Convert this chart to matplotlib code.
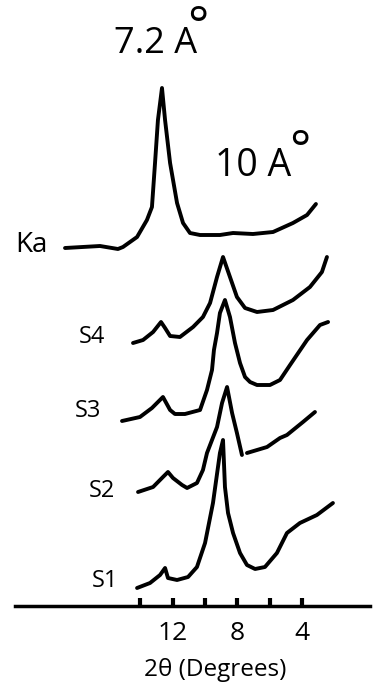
"""
XRD patterns of kaolinite (Ka) and samples S1-S4, stacked with offsets.
2-theta runs right-to-left as on the original strip-chart figure.
"""

import numpy as np
import matplotlib.pyplot as plt

plt.rcParams.update({
    "font.family": ["Open Sans", "DejaVu Sans"],
    "figure.facecolor": "white",
    "axes.facecolor": "white",
})

# ─── data (2-theta in degrees, intensity in arbitrary units above baseline) ───

KA_2THETA = [18.64, 16.48, 15.37, 15.06, 14.19, 13.58, 13.27, 13.08, 12.90, 12.65,
             12.46, 12.15, 11.72, 11.35, 10.92, 10.30, 9.07, 8.26, 7.03, 5.79,
             4.56, 3.69, 3.14]
KA_INT = [0, 2, -1, 1, 11, 28, 41, 85, 128, 160,
          128, 85, 45, 25, 15, 13, 13, 15, 14, 16,
          25, 33, 44]

S4_2THETA = [14.44, 13.82, 13.20, 12.71, 12.46, 12.15, 11.54, 10.73, 10.12, 9.68,
             9.25, 8.88, 8.45, 8.02, 7.52, 6.78, 5.79, 4.56, 3.51, 2.77, 2.46]
S4_INT = [0, 3, 11, 21, 15, 7, 6, 16, 26, 40,
          66, 86, 66, 46, 35, 31, 33, 43, 56, 71, 86]

S3_2THETA = [15.12, 14.01, 13.27, 12.59, 12.15, 11.85, 11.23, 10.30, 9.87, 9.56,
             9.44, 9.25, 9.07, 8.76, 8.45, 8.14, 7.83, 7.52, 7.21, 6.78,
             5.98, 5.36, 4.74, 3.69, 2.89, 2.39]
S3_INT = [0, 4, 13, 24, 11, 7, 7, 11, 31, 51,
          71, 88, 108, 121, 104, 78, 58, 44, 39, 36,
          36, 41, 56, 81, 96, 99]

# S2 trace has a small break in the pen line just after the main peak
S2_2THETA = [14.13, 13.20, 12.59, 12.28, 11.97, 11.41, 11.10, 10.49, 10.12, 9.87,
             9.56, 9.25, 8.94, 8.63, 8.32, 8.02, 7.71, np.nan, 7.40, 6.16,
             5.36, 4.93, 3.94, 3.20]
S2_INT = [0, 5, 15, 20, 14, 7, 4, 9, 22, 39,
          52, 65, 89, 105, 79, 59, 37, np.nan, 39, 45,
          54, 57, 70, 80]

S1_2THETA = [14.19, 13.39, 12.77, 12.46, 12.28, 11.72, 11.04, 10.49, 9.99, 9.50,
             9.07, 8.88, 8.76, 8.57, 8.26, 7.83, 7.40, 6.90, 6.29, 5.55,
             4.93, 4.13, 3.08, 2.09]
S1_INT = [0, 5, 13, 20, 10, 8, 11, 21, 45, 85,
          135, 148, 101, 75, 55, 35, 23, 19, 21, 35,
          55, 65, 73, 85]

TRACE_NAMES = ["Ka", "S4", "S3", "S2", "S1"]
TRACE_OFFSETS = [358, 263, 185, 114, 18]

MAJOR_TICKS = [12, 8, 4]
MINOR_TICKS = [14, 10, 6]

PEAK_LABELS = ["7.2 A", "10 A"]

# ─── plot ────────────────────────────────────────────────────────────────────

fig = plt.figure(figsize=(3.77, 6.86), dpi=100)
ax = fig.add_axes([15 / 377, 80 / 686, 355 / 377, 606 / 686])

traces = [
    (KA_2THETA, KA_INT),
    (S4_2THETA, S4_INT),
    (S3_2THETA, S3_INT),
    (S2_2THETA, S2_INT),
    (S1_2THETA, S1_INT),
]
for (tt, ii), off in zip(traces, TRACE_OFFSETS):
    ax.plot(tt, np.asarray(ii, dtype=float) + off, color="black", lw=2.8,
            solid_joinstyle="round", solid_capstyle="round", clip_on=False)

# trace names, left of each curve start
name_pos = [(20.74, 354, 20), (16.97, 263, 17), (17.22, 189, 17),
            (16.35, 109, 17), (16.17, 19, 17)]
for name, (x, y, fs) in zip(TRACE_NAMES, name_pos):
    ax.text(x, y, name, fontsize=fs, ha="center", va="baseline")

# d-spacing labels with the ring drawn above-right of the A
ax.text(13.07, 553, PEAK_LABELS[0], fontsize=26, ha="center", va="baseline")
ax.text(10.43, 577, "°", fontsize=36, ha="center", va="center")
ax.text(7.03, 430, PEAK_LABELS[1], fontsize=27, ha="center", va="baseline")
ax.text(4.14, 453, "°", fontsize=36, ha="center", va="center")

ax.set_xlim(21.73, -0.20)
ax.set_ylim(0, 606)

ax.set_xticks(MAJOR_TICKS)
ax.set_xticklabels([str(t) for t in MAJOR_TICKS])
ax.set_xticks(MINOR_TICKS, minor=True)
ax.tick_params(axis="x", which="both", direction="in", length=6, width=3,
               labelsize=19, pad=11)
ax.set_yticks([])

for side in ("top", "left", "right"):
    ax.spines[side].set_visible(False)
ax.spines["bottom"].set_linewidth(2.5)

ax.set_xlabel("2θ (Degrees)", fontsize=17.5)
ax.xaxis.set_label_coords(0.563, -0.086)

fig.savefig("out.png", dpi=100, facecolor="white")
